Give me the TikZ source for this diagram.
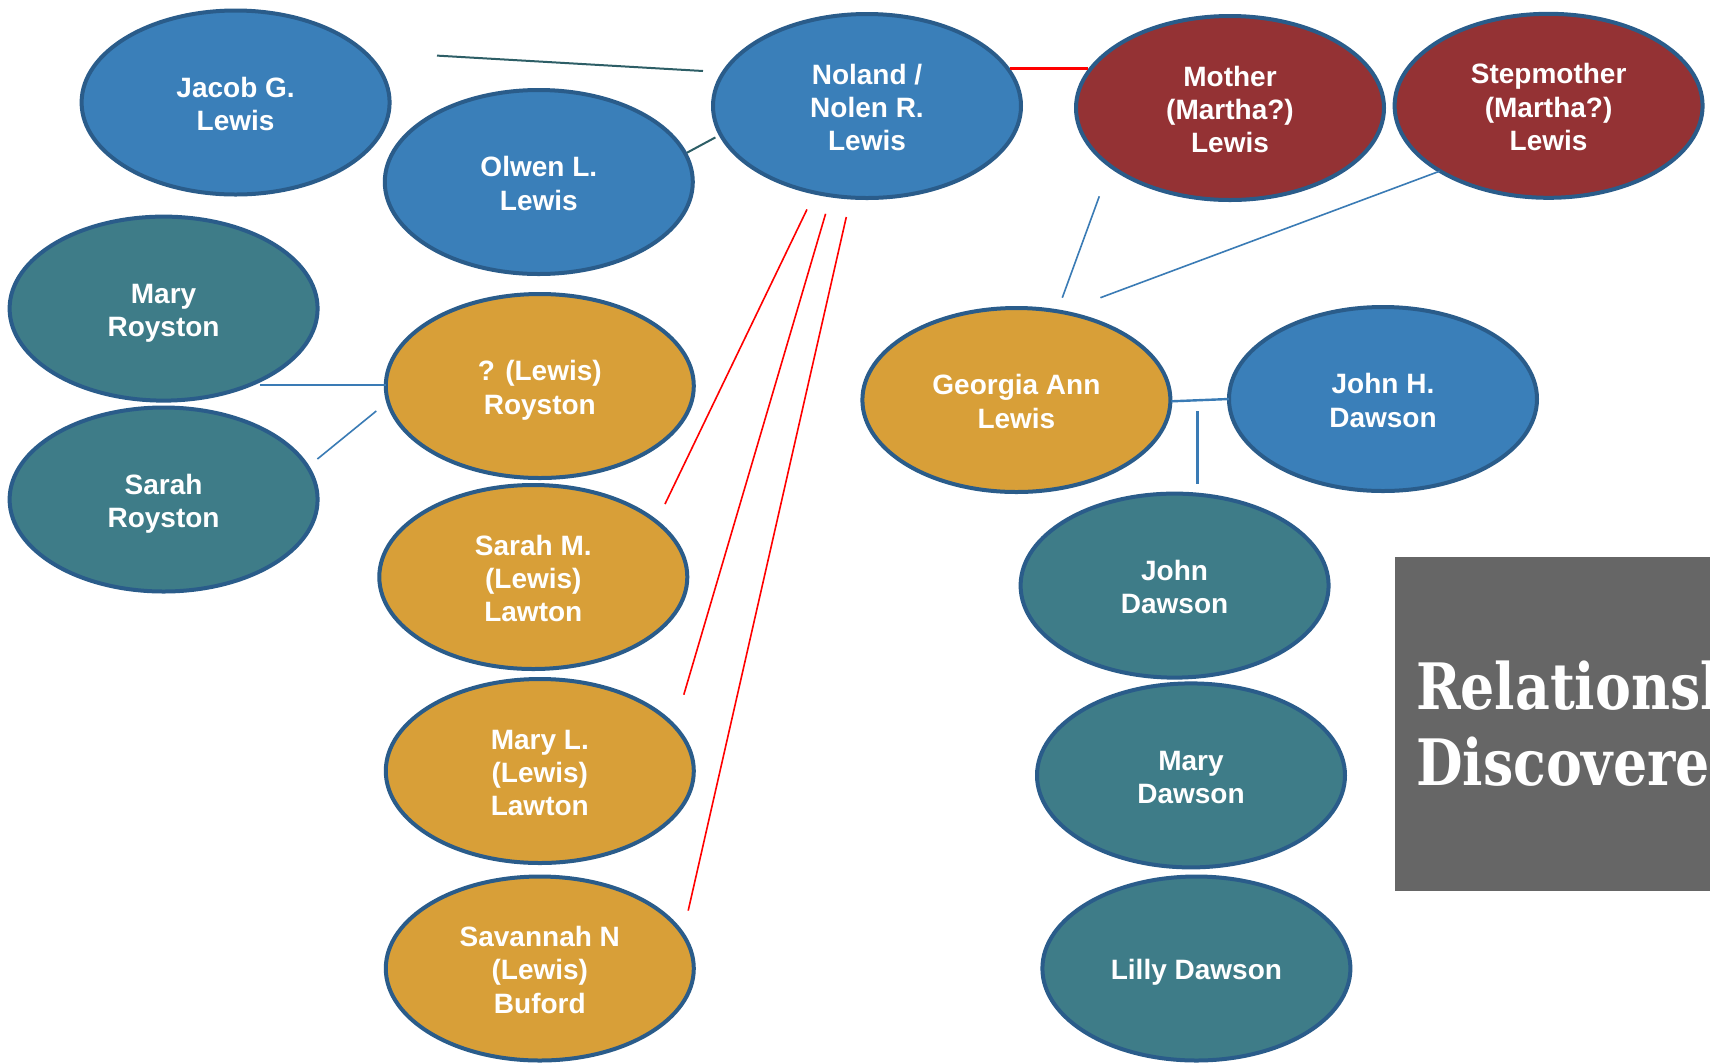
\documentclass[tikz,border=0pt]{standalone}
\usepackage{fontspec}
\setmainfont{Liberation Sans}
\newfontfamily\slabfont{DejaVu Serif}[FakeStretch=0.84]
\usetikzlibrary{shapes.geometric}
\definecolor{pblue}{HTML}{3A7FB9}
\definecolor{pteal}{HTML}{3E7C88}
\definecolor{pgold}{HTML}{D89F38}
\definecolor{pred}{HTML}{943234}
\definecolor{pedge}{HTML}{2A5C8A}
\definecolor{pgray}{HTML}{666666}
\definecolor{darkln}{HTML}{2D5E66}
\definecolor{blueln}{HTML}{3A7BB5}
\newcommand\ps{\rule{0pt}{14.8pt}}
\newcommand\pe{\rule[-3.4pt]{0pt}{3.4pt}}
\begin{document}
\begin{tikzpicture}[x=0.5pt,y=-0.5pt,
  person/.style={ellipse, draw=pedge, line width=2pt, minimum width=154pt, minimum height=92pt,
    inner sep=0pt, align=center, text=white, font=\bfseries\fontsize{14}{16.7}\selectfont},
  bluep/.style={person, fill=pblue},
  tealp/.style={person, fill=pteal},
  goldp/.style={person, fill=pgold},
  redp/.style={person, fill=pred},
  darkline/.style={darkln, line width=1pt},
  blueline/.style={blueln, line width=0.8pt},
  redline/.style={red, line width=0.8pt},
  titletext/.style={anchor=base west, text=white, inner sep=0pt, font=\slabfont\bfseries\fontsize{32}{38}\selectfont}]
\useasboundingbox (0,0) rectangle (1710,1062);
\fill[white] (0,0) rectangle (1710,1062);

% title box
\begin{scope}
\clip (1395,557) rectangle (1710,891);
\fill[pgray] (1395,557) rectangle (1710,891);
\node[titletext] (t1) at (1415.6,709) {Relationships};
\node[titletext] (t2) at (1415.6,785) {Discovered};
\end{scope}

% people
\node[bluep] (jacob) at (235.6,102.5) {\ps Jacob G.\\Lewis\pe};
\node[bluep] (olwen) at (538.8,182) {\ps Olwen L.\\Lewis\pe};
\node[bluep] (noland) at (867,106) {\ps Noland /\\Nolen R.\\Lewis\pe};
\node[redp] (mother) at (1230,108) {\ps Mother\\(Martha?)\\Lewis\pe};
\node[redp] (step) at (1548.6,105.8) {\ps Stepmother\\(Martha?)\\Lewis\pe};
\node[tealp] (maryr) at (163.6,308.6) {\ps Mary\\Royston\pe};
\node[tealp] (sarahr) at (163.6,499.5) {\ps Sarah\\Royston\pe};
\node[goldp] (qroy) at (539.8,386) {\ps ? (Lewis)\\Royston\pe};
\node[goldp] (sarahm) at (533.3,577) {\ps Sarah M.\\(Lewis)\\Lawton\pe};
\node[goldp] (maryl) at (539.8,771) {\ps Mary L.\\(Lewis)\\Lawton\pe};
\node[goldp] (sav) at (539.8,968.5) {\ps Savannah N\\(Lewis)\\Buford\pe};
\node[goldp] (georgia) at (1016.4,400) {\ps Georgia Ann\\Lewis\pe};
\node[bluep] (johnh) at (1383,399) {\ps John H.\\Dawson\pe};
\node[tealp] (johnd) at (1174.6,585.6) {\ps John\\Dawson\pe};
\node[tealp] (maryd) at (1191,775.4) {\ps Mary\\Dawson\pe};
\node[tealp] (lilly) at (1196.4,968.5) {\ps Lilly Dawson\pe};

% connector end points
\coordinate (jn1) at (437,55.6);   \coordinate (jn2) at (703,71);
\coordinate (on1) at (687,152.7);  \coordinate (on2) at (715.4,137.4);
\coordinate (nm1) at (1010,68.7);  \coordinate (nm2) at (1088,68.7);
\coordinate (ns1) at (807,209.4);  \coordinate (ns2) at (665,504);
\coordinate (nl1) at (825.6,213.8); \coordinate (nl2) at (683.8,694.7);
\coordinate (nb1) at (846.3,217);  \coordinate (nb2) at (688.2,910.6);
\coordinate (mg1) at (1099.3,196.3); \coordinate (mg2) at (1062.3,297.7);
\coordinate (sg1) at (1439.6,171.2); \coordinate (sg2) at (1100.4,297.7);
\coordinate (mr1) at (259.6,385);  \coordinate (mr2) at (386,385);
\coordinate (sr1) at (317.4,459);  \coordinate (sr2) at (376.3,411);
\coordinate (gj1) at (1171.3,401.3); \coordinate (gj2) at (1229,399);
\coordinate (gc1) at (1197.5,411); \coordinate (gc2) at (1197.5,484);

% connectors
\draw[darkline] (jn1) -- (jn2);
\draw[darkline] (on1) -- (on2);
\draw[redline, line width=1.4pt] (nm1) -- (nm2);
\draw[redline] (ns1) -- (ns2);
\draw[redline] (nl1) -- (nl2);
\draw[redline] (nb1) -- (nb2);
\draw[blueline] (mg1) -- (mg2);
\draw[blueline] (sg1) -- (sg2);
\draw[blueline, line width=1.2pt] (mr1) -- (mr2);
\draw[blueline] (sr1) -- (sr2);
\draw[blueline, line width=1.2pt] (gj1) -- (gj2);
\draw[blueline, line width=1.2pt] (gc1) -- (gc2);
\end{tikzpicture}
\end{document}
